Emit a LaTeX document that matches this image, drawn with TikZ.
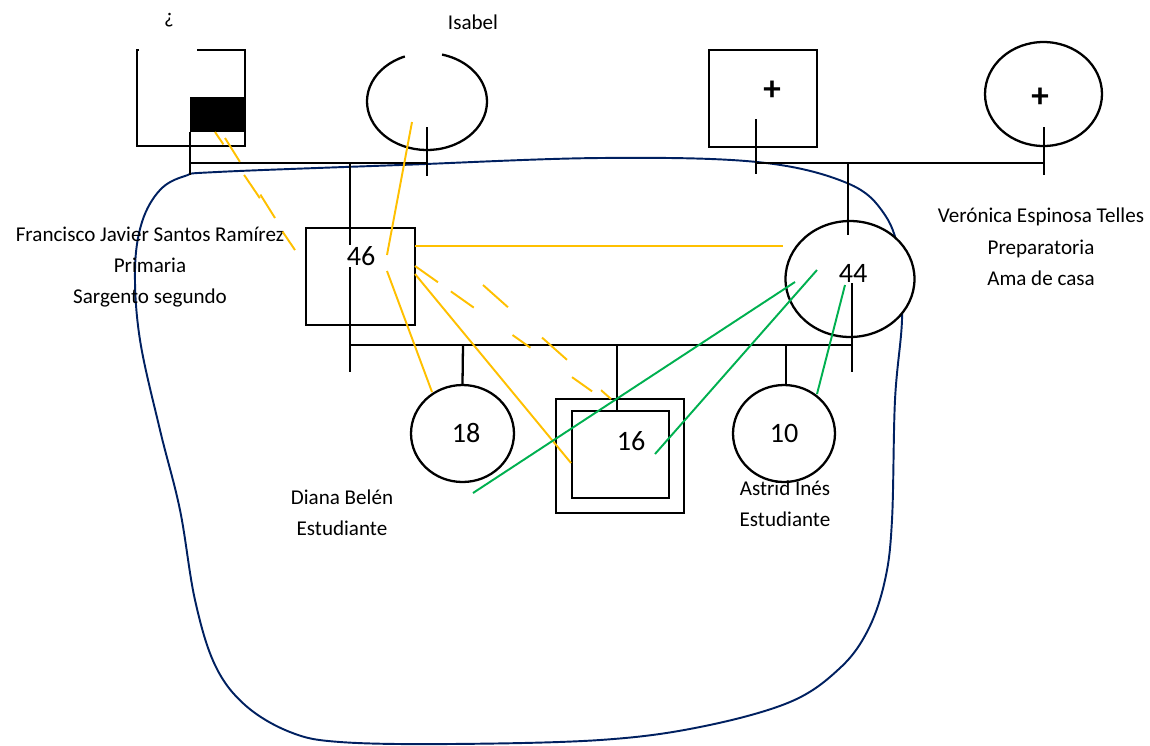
\documentclass[tikz,border=0pt]{standalone}
\usepackage{fontspec}
\setmainfont{Carlito}
\usepackage{tikz}
\usetikzlibrary{positioning,shapes.geometric,calc}
\definecolor{tieyellow}{RGB}{255,192,0}
\definecolor{tiegreen}{RGB}{0,176,80}
\definecolor{homeblue}{RGB}{0,32,96}
\tikzset{
  kin/.style={draw=black, line width=1.3pt},
  malebox/.style={rectangle, draw=black, line width=1.3pt, fill=white, inner sep=0pt},
  femalebox/.style={ellipse, draw=black, line width=1.3pt, fill=white, inner sep=0pt},
  agetext/.style={font=\fontsize{16}{18}\selectfont, inner sep=1pt},
  plustext/.style={font=\fontsize{20}{22}\selectfont\bfseries, inner sep=0pt},
  nametext/.style={font=\fontsize{12}{17.8}\selectfont, align=center},
  tieyel/.style={tieyellow, line width=1.1pt},
  tiegrn/.style={tiegreen, line width=1.1pt},
  homeline/.style={homeblue, line width=1.1pt},
}

\begin{document}
\begin{tikzpicture}[x=0.02cm, y=-0.02cm]
\useasboundingbox (0,0) rectangle (1150,745);

% household outline
\draw[homeline] plot[smooth cycle, tension=0.6] coordinates {
  (217,172) (400,165) (600,158) (757,162) (847,183) (885,215) (900,260)
  (902,320) (895,400) (892,520) (885,580) (868,630) (840,668) (790,702)
  (700,727) (600,740) (450,744) (340,742) (290,732) (245,705) (215,665)
  (195,600) (180,510) (160,430) (140,340) (135,270) (142,222) (160,190)
  (185,176)};

% grandparents
\draw[kin] (197,50) -| (245,146) -| (137,50) -- (139,50);
\node[fill=black, minimum width=1.1cm, minimum height=0.7cm, inner sep=0pt] (pgfmark) at (217.5,114.5) {};
\node[femalebox, draw=none, fill=none, minimum width=2.4cm, minimum height=1.94cm] (pgm) at (427,101.5) {};
\draw[kin] ($(pgm.center)+(111.7:1.2cm and 0.97cm)$) arc[start angle=111.7, end angle=435.5, x radius=1.2cm, y radius=0.97cm];
\node[malebox, minimum width=2.16cm, minimum height=1.94cm] (mgf) at (763,98.5) {};
\node[femalebox, minimum width=2.34cm, minimum height=2.08cm] (mgm) at (1043.5,94) {};

% parents and children
\node[malebox, minimum width=2.18cm, minimum height=1.94cm] (father) at (360.5,276.5) {};
\node[femalebox, minimum width=2.58cm, minimum height=2.32cm] (mother) at (850,279) {};
\node[femalebox, minimum width=2.06cm, minimum height=1.94cm] (diana) at (462.5,433.5) {};
\node[malebox, minimum width=2.56cm, minimum height=2.28cm] (indexout) at (620,456) {};
\node[malebox, minimum width=1.94cm, minimum height=1.74cm] (indexin) at (620.5,454.5) {};
\node[femalebox, minimum width=2.04cm, minimum height=1.94cm] (astrid) at (784,433.5) {};

% family lines
\draw[kin] (190,132) -- (190,175);
\draw[kin] (190,163) -- (427,163);
\draw[kin] (427,127) -- (427,176);
\draw[kin] (350,163) -- (350,372);
\draw[kin] (756,119) -- (756,174);
\draw[kin] (756,163) -- (1044,163);
\draw[kin] (1044,127) -- (1044,175);
\draw[kin] (848,163) -- (848,235);
\draw[kin] (350,345) -- (852,345);
\draw[kin] (852,283) -- (852,372);
\draw[kin] (463,345) -- (diana.north);
\draw[kin] (617,345) -- (617,411);
\draw[kin] (786,345) -- (786,385);

% texts
\node[nametext] (q) at (169,20) {¿};
\node[nametext] (isabel) at (473,22) {Isabel};
\node[plustext] (plusmgf) at (772,91) {+};
\node[plustext] (plusmgm) at (1040,98) {+};
\node[agetext, fill=white] (age46) at (361,256) {46};
\node[agetext] (age44) at (853,273) {44};
\node[agetext] (age18) at (466,433) {18};
\node[agetext] (age16) at (631,441) {16};
\node[agetext] (age10) at (784,433) {10};
\node[nametext] (francisco) at (150,267) {Francisco Javier Santos Ramírez\\Primaria\\Sargento segundo};
\node[nametext] (veronica) at (1041,247) {Verónica Espinosa Telles\\Preparatoria\\Ama de casa};
\node[nametext] (dianatxt) at (342,513) {Diana Belén\\Estudiante};
\node[nametext] (astridtxt) at (785,503.5) {Astrid Inés\\Estudiante};

% relations
\coordinate (fa1) at (387,255);
\coordinate (fa2) at (387,271);
\coordinate (fa3) at (415,246);
\coordinate (fa4) at (415,274);
\coordinate (fa5) at (415,266);
\coordinate (fa6) at (483,285);
\coordinate (is1) at (412,122);
\coordinate (di1) at (432,392);
\coordinate (mo1) at (783,246);
\coordinate (in1) at (571,463);
\coordinate (in2) at (593,392);
\coordinate (in3) at (611,399);
\coordinate (gf1) at (215,132);
\coordinate (gf2) at (225,138);
\coordinate (fx1) at (295,250);
\coordinate (fx2) at (275,218);
\draw[tieyel] (is1) -- (fa1);
\draw[tieyel] (fa2) -- (di1);
\draw[tieyel] (fa3) -- (mo1);
\draw[tieyel] (fa4) -- (in1);
\draw[tieyel, dash pattern=on 16pt off 9pt on 16pt off 27pt on 12.5pt off 29pt on 14pt off 20pt] (fa5) -- (in2);
\draw[tieyel, dash pattern=on 19pt off 26pt] (fa6) -- (in3);
\draw[tieyel, dash pattern=on 8.5pt off 21pt on 16pt off 23pt on 13pt off 20pt] (gf1) -- (fx1);
\draw[tieyel, dash pattern=on 16pt off 22pt] (gf2) -- (fx2);

\coordinate (mo2) at (795,282);
\coordinate (mo3) at (817,270);
\coordinate (mo4) at (845,285);
\coordinate (dx1) at (473,493);
\coordinate (in4) at (655,454);
\coordinate (as1) at (817,394);
\draw[tiegrn] (dx1) -- (mo2);
\draw[tiegrn] (in4) -- (mo3);
\draw[tiegrn] (as1) -- (mo4);
\end{tikzpicture}
\end{document}
